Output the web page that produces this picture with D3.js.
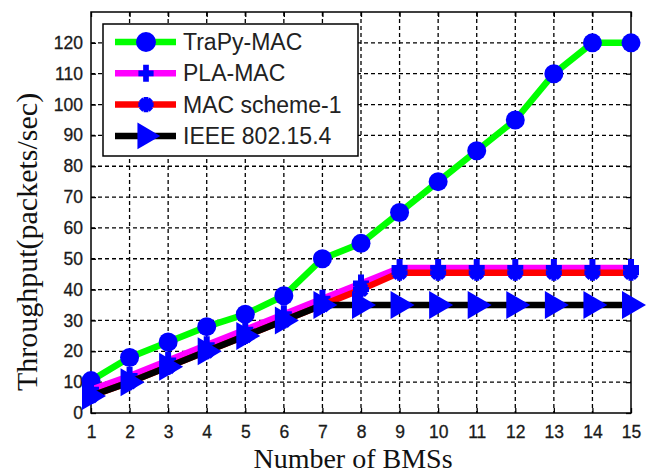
<!DOCTYPE html>
<html>
<head>
<meta charset="utf-8">
<script src="https://cdn.jsdelivr.net/npm/d3@7"></script>
<style>
  body { margin: 0; background: #fff; }
  svg { display: block; }
</style>
</head>
<body>
<svg width="651" height="475"></svg>
<script>
// Data
var nodes = [1, 2, 3, 4, 5, 6, 7, 8, 9, 10, 11, 12, 13, 14, 15]
var trapyMac = [10.5, 18, 23, 28, 32, 38, 50, 55, 65, 75, 85, 95, 110, 120, 120]
var plaMac = [7.5, 12, 17, 22, 27, 32, 37, 42, 47, 47, 47, 47, 47, 47, 47]
var macScheme1 = [5.5, 10, 15, 20, 25, 30, 35, 40, 45.5, 45.5, 45.5, 45.5, 45.5, 45.5, 45.5]
var ieee = [5.5, 10, 15, 20, 25, 30, 35, 35, 35, 35, 35, 35, 35, 35, 35]
var seriesNames = ['TraPy-MAC', 'PLA-MAC', 'MAC scheme-1', 'IEEE 802.15.4']
var yTicks = [0, 10, 20, 30, 40, 50, 60, 70, 80, 90, 100, 110, 120]

var series = [
  { name: seriesNames[0], values: trapyMac, color: '#00ff00', marker: 'circle' },
  { name: seriesNames[1], values: plaMac, color: '#ff00ff', marker: 'plus' },
  { name: seriesNames[2], values: macScheme1, color: '#ff0000', marker: 'star' },
  { name: seriesNames[3], values: ieee, color: '#000000', marker: 'triangle' },
]

var svg = d3.select('svg')
var plotLeft = 91, plotRight = 631, plotTop = 12, plotBottom = 413

var x = d3.scaleLinear().domain([1, 15]).range([plotLeft, plotRight])
var y = d3.scaleLinear().domain([0, 130]).range([plotBottom, plotTop])

svg.append('rect').attr('width', 651).attr('height', 475).attr('fill', '#fff')

// dashed grid
var grid = svg.append('g')
  .attr('stroke', '#000')
  .attr('stroke-width', 1.3)
  .attr('stroke-dasharray', '4,3')
grid.selectAll('.gx')
  .data(nodes.slice(1, -1))
  .enter()
  .append('line')
  .attr('x1', d => x(d)).attr('x2', d => x(d))
  .attr('y1', plotTop).attr('y2', plotBottom)
grid.selectAll('.gy')
  .data(yTicks.slice(1))
  .enter()
  .append('line')
  .attr('x1', plotLeft).attr('x2', plotRight)
  .attr('y1', d => y(d)).attr('y2', d => y(d))

// axes (ticks inside, labels outside)
svg.append('g')
  .attr('transform', 'translate(0,' + plotBottom + ')')
  .call(d3.axisBottom(x).tickValues(nodes).tickSize(-5).tickPadding(13))
svg.append('g')
  .attr('transform', 'translate(' + plotLeft + ',0)')
  .call(d3.axisLeft(y).tickValues(yTicks).tickSize(-5).tickPadding(8))
svg.append('g')
  .attr('transform', 'translate(0,' + plotTop + ')')
  .call(d3.axisTop(x).tickValues(nodes).tickSize(-5).tickFormat(''))
svg.append('g')
  .attr('transform', 'translate(' + plotRight + ',0)')
  .call(d3.axisRight(y).tickValues(yTicks).tickSize(-5).tickFormat(''))

svg.selectAll('.domain').remove()
svg.selectAll('.tick line').attr('stroke', '#000').attr('stroke-width', 1.3)
svg.selectAll('.tick text')
  .attr('font-family', 'Liberation Sans, Arial, sans-serif')
  .attr('font-size', 17.5)
  .attr('fill', '#1a1a1a')
  .attr('stroke', '#1a1a1a')
  .attr('stroke-width', 0.3)

svg.append('rect')
  .attr('x', plotLeft).attr('y', plotTop)
  .attr('width', plotRight - plotLeft).attr('height', plotBottom - plotTop)
  .attr('fill', 'none')
  .attr('stroke', '#000')
  .attr('stroke-width', 1.5)

// marker drawing
function drawMarker(g, type, s) {
  s = s || 1
  if (type === 'circle') {
    g.append('circle').attr('r', 9.5 * s).attr('fill', '#0000ff')
  } else if (type === 'triangle') {
    g.append('path')
      .attr('d', d3.line()([[-9 * s, -14 * s], [15 * s, 0], [-9 * s, 14 * s]]) + 'Z')
      .attr('fill', '#0000ff')
  } else if (type === 'plus') {
    g.append('path')
      .attr('d', 'M' + (-8 * s) + ',0H' + (8 * s) + 'M0,' + (-9 * s) + 'V' + (9 * s))
      .attr('stroke', '#0000ff')
      .attr('stroke-width', 6 * s)
  } else if (type === 'star') {
    var r = 8 * s
    var d = ''
    ;[0, 45, 90, 135].forEach(a => {
      var rad = a * Math.PI / 180
      d += 'M' + (-r * Math.cos(rad)) + ',' + (-r * Math.sin(rad)) +
        'L' + (r * Math.cos(rad)) + ',' + (r * Math.sin(rad))
    })
    g.append('path').attr('d', d).attr('stroke', '#0000ff').attr('stroke-width', 5 * s)
    g.append('circle').attr('r', 5 * s).attr('fill', '#0000ff')
  }
}

var line = d3.line().x((d, i) => x(nodes[i])).y(d => y(d))

series.forEach(s => {
  var g = svg.append('g')
  g.append('path')
    .attr('d', line(s.values))
    .attr('fill', 'none')
    .attr('stroke', s.color)
    .attr('stroke-width', 6.5)
  s.values.forEach((v, i) => {
    var m = g.append('g').attr('transform', 'translate(' + x(nodes[i]) + ',' + y(v) + ')')
    drawMarker(m, s.marker)
  })
})

// legend
var legend = svg.append('g')
legend.append('rect')
  .attr('x', 103).attr('y', 24)
  .attr('width', 255).attr('height', 132)
  .attr('fill', '#fff')
  .attr('stroke', '#000')
  .attr('stroke-width', 1.5)
series.forEach((s, i) => {
  var ly = 42 + i * 31.3
  legend.append('line')
    .attr('x1', 115).attr('x2', 176)
    .attr('y1', ly).attr('y2', ly)
    .attr('stroke', s.color)
    .attr('stroke-width', 6.5)
  var m = legend.append('g').attr('transform', 'translate(146,' + ly + ')')
  drawMarker(m, s.marker, s.marker === 'circle' ? 1.05 : 0.95)
  legend.append('text')
    .attr('x', 183).attr('y', ly + 8)
    .attr('font-family', 'Liberation Sans, Arial, sans-serif')
    .attr('font-size', 23)
    .attr('fill', '#222')
    .text(s.name)
})

// axis titles
svg.append('text')
  .attr('x', 353).attr('y', 468)
  .attr('text-anchor', 'middle')
  .attr('font-family', 'Liberation Serif, Times New Roman, serif')
  .attr('font-size', 28)
  .attr('fill', '#111')
  .text('Number of BMSs')
svg.append('text')
  .attr('transform', 'translate(37,242) rotate(-90)')
  .attr('text-anchor', 'middle')
  .attr('font-family', 'Liberation Serif, Times New Roman, serif')
  .attr('font-size', 30)
  .attr('fill', '#111')
  .text('Throughput(packets/sec)')
</script>
</body>
</html>
